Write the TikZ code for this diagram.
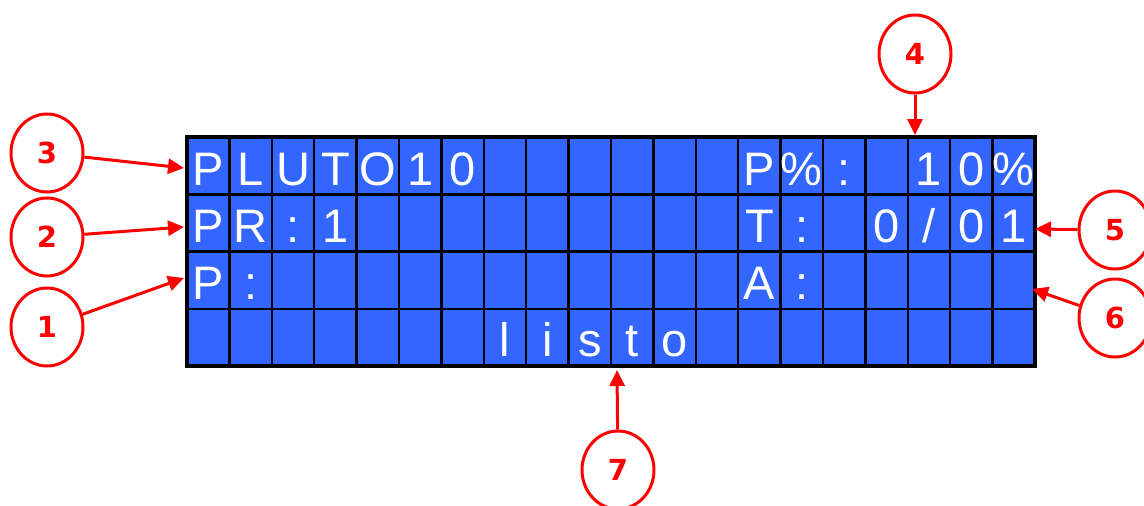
\documentclass[tikz,border=0pt]{standalone}
\usepackage{fontspec}
\setmainfont{Liberation Sans}
\newfontfamily\lcdfont{Liberation Sans}
\newfontfamily\calloutfont{DejaVu Sans}
\usetikzlibrary{shapes.geometric,arrows.meta}
\definecolor{lcdblue}{RGB}{51,102,255}
\newcommand\lcdslash{/}
\begin{document}
\begin{tikzpicture}[x=1pt,y=-1pt,
  lcdchar/.style={anchor=base, text=white, inner sep=0pt,
    font=\lcdfont\fontsize{47}{47}\selectfont},
  callout/.style={ellipse, draw=red, line width=3pt, text=red,
    minimum width=72pt, minimum height=78pt, inner sep=0pt,
    font=\calloutfont\bfseries\fontsize{29}{29}\selectfont},
  pointer/.style={draw=red, line width=3pt,
    -{Triangle[length=16pt,width=15pt]}}]
\useasboundingbox (0,0) rectangle (1144,506);

% display: 20 columns x 4 rows
\def\cw{42.4}
\def\rh{57.25}
\fill[lcdblue] (187,137) rectangle (1035,366);
\foreach \c in {1,...,19}
  \draw[line width=2.5pt] ({187+\c*\cw},137) -- ({187+\c*\cw},366);
\foreach \r in {1,2,3}
  \draw[line width=2.5pt] (187,{137+\r*\rh}) -- (1035,{137+\r*\rh});
\draw[line width=4pt] (187,137) rectangle (1035,366);

% characters shown on the display
\foreach \r/\c/\ch in {
  0/0/P, 0/1/L, 0/2/U, 0/3/T, 0/4/O, 0/5/1, 0/6/0,
  0/13/P, 0/14/\%, 0/15/:, 0/17/1, 0/18/0, 0/19/\%,
  1/0/P, 1/1/R, 1/2/:, 1/3/1,
  1/13/T, 1/14/:, 1/16/0, 1/17/\lcdslash, 1/18/0, 1/19/1,
  2/0/P, 2/1/:, 2/13/A, 2/14/:,
  3/7/l, 3/8/i, 3/9/s, 3/10/t, 3/11/o}
  \node[lcdchar] (ch-\r-\c) at ({187+(\c+0.5)*\cw},{137+\r*\rh+48}) {\ch};

% numbered callouts
\node[callout] (c1) at (47,327) {1};
\node[callout] (c2) at (47,237) {2};
\node[callout] (c3) at (47,153) {3};
\node[callout] (c4) at (915,54) {4};
\node[callout] (c5) at (1115,230) {5};
\node[callout] (c6) at (1115,318) {6};
\node[callout] (c7) at (618,470) {7};

% arrow targets on the display edge
\coordinate (t1) at (184,278);
\coordinate (t2) at (184,227);
\coordinate (t3) at (184,168);
\coordinate (t4) at (915,135);
\coordinate (t5) at (1035,229);
\coordinate (t6) at (1032,289);
\coordinate (t7) at (617,370);

\draw[pointer] (c1) -- (t1);
\draw[pointer] (c2) -- (t2);
\draw[pointer] (c3) -- (t3);
\draw[pointer] (c4) -- (t4);
\draw[pointer] (c5) -- (t5);
\draw[pointer] (c6) -- (t6);
\draw[pointer] (c7) -- (t7);
\end{tikzpicture}
\end{document}
